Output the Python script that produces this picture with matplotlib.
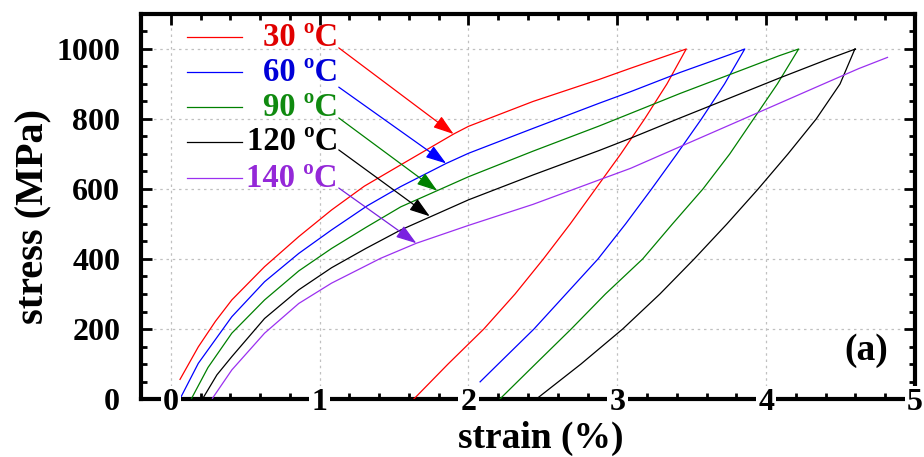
import numpy as np
import matplotlib
matplotlib.use('Agg')
import matplotlib.pyplot as plt
from matplotlib.ticker import MultipleLocator
import matplotlib.transforms as mtransforms

plt.rcParams['font.family'] = 'Liberation Serif'
plt.rcParams['font.weight'] = 'bold'

labels = ['30 ºC', '60 ºC', '90 ºC', '120 ºC', '140 ºC']
line_colors = ['#ff0000', '#0000ff', '#008000', '#000000', '#9b30f0']
text_colors = ['#e00000', '#0000d8', '#108a10', '#000000', '#9428d8']
arrow_colors = ['#ff0000', '#0000ff', '#008000', '#000000', '#7a22e0']

# loading branches (strain %, stress MPa)
load_30_x = [0.062, 0.185, 0.30, 0.41, 0.63, 0.86, 1.08, 1.30, 1.545, 1.90, 2.0, 2.433, 2.878, 3.089, 3.463]
load_30_y = [56, 149, 222, 283, 378, 464, 540, 608, 669, 757, 779, 850, 913, 945, 1000]
load_60_x = [0.07, 0.185, 0.41, 0.63, 0.86, 1.08, 1.32, 1.545, 1.85, 2.0, 2.433, 2.878, 3.089, 3.422, 3.756, 3.856]
load_60_y = [7, 102, 235, 335, 416, 483, 552, 607, 673, 702, 773, 845, 878, 933, 984, 1000]
load_90_x = [0.14, 0.25, 0.41, 0.63, 0.86, 1.08, 1.31, 1.545, 2.0, 2.433, 2.878, 3.089, 3.422, 3.756, 4.089, 4.218]
load_90_y = [2, 90, 188, 283, 366, 430, 490, 549, 635, 708, 780, 816, 873, 927, 981, 1000]
load_120_x = [0.22, 0.31, 0.41, 0.63, 0.86, 1.08, 1.31, 1.545, 2.0, 2.433, 2.878, 3.089, 3.422, 3.756, 4.089, 4.422, 4.60]
load_120_y = [5, 69, 121, 230, 312, 375, 430, 483, 569, 640, 710, 745, 803, 860, 917, 972, 1000]
load_140_x = [0.28, 0.41, 0.63, 0.86, 1.08, 1.41, 1.65, 2.0, 2.433, 2.878, 3.089, 3.422, 3.756, 4.089, 4.422, 4.622, 4.815]
load_140_y = [2, 83, 188, 273, 331, 402, 445, 496, 556, 626, 659, 721, 783, 845, 907, 944, 976]

# unloading branches
unload_30_x = [3.463, 3.333, 3.183, 3.023, 2.853, 2.683, 2.503, 2.313, 2.103, 1.863, 1.633]
unload_30_y = [1000, 900, 800, 700, 600, 500, 400, 300, 200, 100, 0]
unload_60_x = [3.856, 3.72, 3.565, 3.40, 3.23, 3.055, 2.87, 2.655, 2.44, 2.20, 2.078]
unload_60_y = [1000, 900, 800, 700, 600, 500, 400, 300, 200, 100, 49]
unload_90_x = [4.218, 4.075, 3.915, 3.755, 3.575, 3.37, 3.17, 2.92, 2.69, 2.45, 2.211]
unload_90_y = [1000, 900, 800, 700, 600, 500, 400, 300, 200, 100, 0]
unload_120_x = [4.596, 4.496, 4.336, 4.146, 3.946, 3.736, 3.516, 3.286, 3.036, 2.756, 2.456]
unload_120_y = [1000, 900, 800, 700, 600, 500, 400, 300, 200, 100, 0]
unload_140_x = []
unload_140_y = []

curves_x = [load_30_x + unload_30_x, load_60_x + unload_60_x, load_90_x + unload_90_x,
            load_120_x + unload_120_x, load_140_x + unload_140_x]
curves_y = [load_30_y + unload_30_y, load_60_y + unload_60_y, load_90_y + unload_90_y,
            load_120_y + unload_120_y, load_140_y + unload_140_y]

# where each arrow points on its curve
arrow_tip_x = [1.90, 1.85, 1.79, 1.74, 1.65]
arrow_tip_y = [757, 673, 595, 522, 445]

fig = plt.figure(figsize=(9.24, 4.57), dpi=100)
ax = fig.add_axes([0.1526, 0.1269, 0.8377, 0.8425])

for cx, cy, c in zip(curves_x, curves_y, line_colors):
    ax.plot(cx, cy, color=c, lw=0.9, zorder=3)

ax.set_xlim(-0.2, 5.0)
ax.set_ylim(0, 1100)
ax.xaxis.set_major_locator(MultipleLocator(1))
ax.xaxis.set_minor_locator(MultipleLocator(0.2))
ax.yaxis.set_major_locator(MultipleLocator(200))
ax.yaxis.set_minor_locator(MultipleLocator(50))
ax.set_yticks([0, 200, 400, 600, 800, 1000])
ax.tick_params(which='both', direction='in', top=True, right=True, width=2)
ax.tick_params(which='major', length=8)
ax.tick_params(which='minor', length=4.5)
ax.tick_params(axis='y', labelsize=23, pad=15)
ax.tick_params(axis='x', labelbottom=False)
for s in ax.spines.values():
    s.set_linewidth(3)
ax.grid(True, which='major', color='#c0c0c0', linestyle=(0, (2, 3)), lw=0.9, zorder=0)
ax.set_axisbelow(True)

# x tick labels sit on the bottom spine
trans = mtransforms.blended_transform_factory(ax.transData, ax.transAxes)
for v in range(0, 6):
    ax.text(v, 0, str(v), transform=trans, ha='center', va='center_baseline', fontsize=23,
            fontweight='bold', clip_on=False, zorder=10,
            bbox=dict(facecolor='white', edgecolor='none', pad=1.5))

ax.set_xlabel('strain (%)', fontsize=27, fontweight='bold', labelpad=12)
ax.set_ylabel('stress (MPa)', fontsize=29, fontweight='bold', labelpad=3)
ax.xaxis.label.set_x(0.517)
ax.yaxis.label.set_y(0.473)

# hand-made legend with arrows
row_y = [0.940, 0.849, 0.758, 0.668, 0.574]
arrow_start_y = [0.912, 0.81, 0.73, 0.647, 0.548]
for i in range(5):
    ax.plot([0.0594, 0.130], [row_y[i], row_y[i]], transform=ax.transAxes,
            color=line_colors[i], lw=0.9, zorder=4)
    ax.text(0.2545, row_y[i], labels[i], transform=ax.transAxes, ha='right', va='center',
            fontsize=23.5, fontweight='bold', color=text_colors[i], zorder=4)
    ax.annotate('', xy=(arrow_tip_x[i], arrow_tip_y[i]), xycoords='data',
                xytext=(0.2555, arrow_start_y[i]), textcoords='axes fraction',
                arrowprops=dict(arrowstyle='-|>,head_length=0.9,head_width=0.3',
                                mutation_scale=14, color=arrow_colors[i], lw=0.9,
                                shrinkA=0, shrinkB=0), zorder=5)

ax.text(0.965, 0.127, '(a)', transform=ax.transAxes, ha='right', va='center',
        fontsize=27, fontweight='bold')

fig.savefig('out.png', dpi=100)
